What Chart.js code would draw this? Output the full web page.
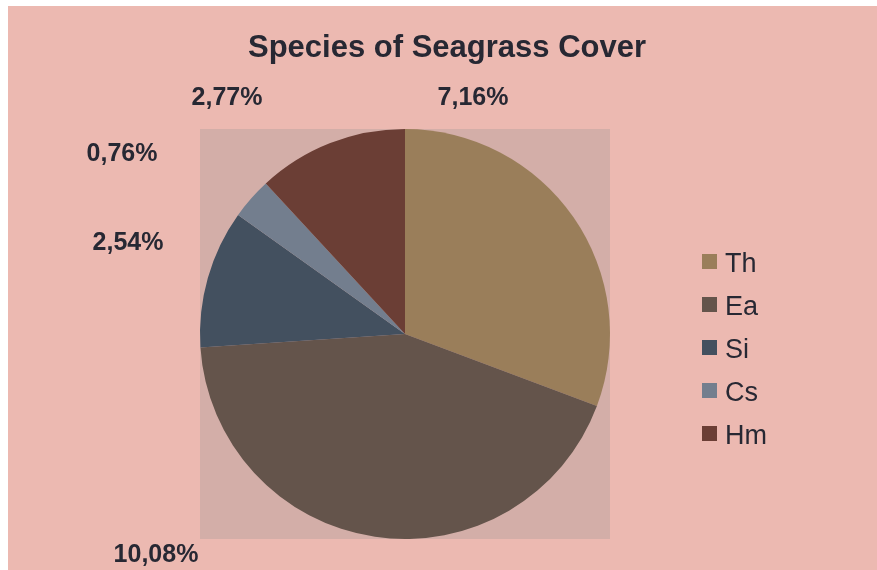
<!DOCTYPE html>
<html>
<head>
<meta charset="utf-8">
<script src="https://cdn.jsdelivr.net/npm/chart.js@4/dist/chart.umd.min.js"></script>
<style>
  html, body { margin: 0; padding: 0; background: #fff; }
  #wrap { width: 877px; height: 570px; }
</style>
</head>
<body>
<div id="wrap"><canvas id="seagrassChart" width="877" height="570"></canvas></div>
<script>
// species and their cover (%)
var species = ['Th', 'Ea', 'Si', 'Cs', 'Hm'];
var cover = [7.16, 10.08, 2.54, 0.76, 2.77];
var sliceColors = ['#9a7e5a', '#64544b', '#43505f', '#737e8e', '#6b3e35'];

var textColor = '#272833';
var fontFamily = '"Liberation Sans", Arial, sans-serif';

// where each percentage label sits (center x, baseline y)
var labelSpots = [[473, 105], [156, 562], [128, 250], [122, 161], [227, 105]];

function pct(v) {
    return v.toFixed(2).replace('.', ',') + '%';
}

// background, plot box, title, value labels and legend
var decor = {
    id: 'decor',
    beforeDraw: function (chart) {
        var c = chart.ctx;
        var a = chart.chartArea;
        c.save();
        c.fillStyle = '#ffffff';
        c.fillRect(0, 0, chart.width, chart.height);
        c.fillStyle = '#ecb9b1';
        c.fillRect(8, 6, chart.width - 8, chart.height - 6);
        c.fillStyle = '#d3aea8';
        c.fillRect(a.left, a.top, a.right - a.left, a.bottom - a.top);
        c.restore();
    },
    afterDraw: function (chart) {
        var c = chart.ctx;
        c.save();
        c.fillStyle = textColor;
        c.textAlign = 'center';
        c.textBaseline = 'alphabetic';
        c.font = 'bold 31px ' + fontFamily;
        c.fillText('Species of Seagrass Cover', 447, 57);

        c.font = 'bold 25px ' + fontFamily;
        cover.forEach(function (v, i) {
            c.fillText(pct(v), labelSpots[i][0], labelSpots[i][1]);
        });

        // legend
        c.textAlign = 'left';
        c.font = '27px ' + fontFamily;
        species.forEach(function (name, i) {
            var y = 272 + i * 43;
            c.fillStyle = sliceColors[i];
            c.fillRect(702, y - 18, 15, 15);
            c.fillStyle = textColor;
            c.fillText(name, 725, y);
        });
        c.restore();
    }
};

var ctx = document.getElementById('seagrassChart').getContext('2d');
var seagrassChart = new Chart(ctx, {
    type: 'pie',
    data: {
        labels: species,
        datasets: [{
            data: cover,
            backgroundColor: sliceColors,
            borderWidth: 0
        }]
    },
    options: {
        responsive: false,
        animation: false,
        layout: {
            padding: { left: 200, right: 267, top: 129, bottom: 31 }
        },
        plugins: {
            legend: { display: false },
            title: { display: false },
            tooltip: { enabled: false }
        }
    },
    plugins: [decor]
});
</script>
</body>
</html>
